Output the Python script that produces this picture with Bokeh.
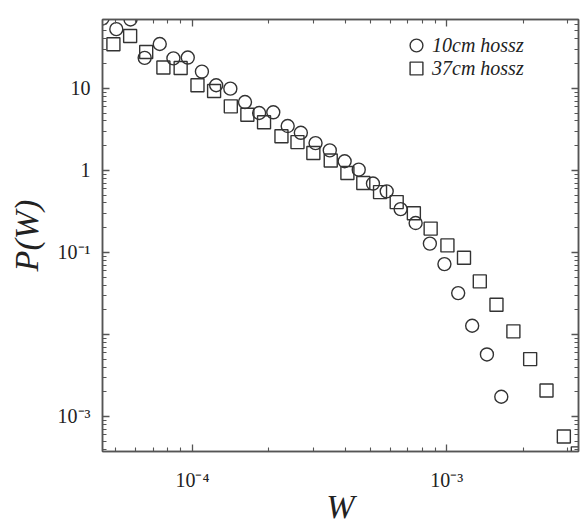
from bokeh.plotting import figure
from bokeh.models import (LogAxis, CustomJSTickFormatter, Legend,
                          LegendItem, Range1d, FixedTicker)
from bokeh.embed import file_html
from bokeh.resources import INLINE

# ---- data ----
w_10cm = [4.43e-5, 5.02e-5, 5.71e-5, 6.49e-5, 7.44e-5, 8.42e-5, 9.59e-5, 1.09e-4,
          1.24e-4, 1.41e-4, 1.61e-4, 1.83e-4, 2.08e-4, 2.37e-4, 2.67e-4, 3.05e-4,
          3.47e-4, 3.97e-4, 4.51e-4, 5.13e-4, 5.81e-4, 6.59e-4, 7.55e-4, 8.59e-4,
          9.8e-4, 1.11e-3, 1.26e-3, 1.44e-3, 1.64e-3]
p_10cm = [71, 52.6, 69, 23.5, 34.7, 23.2, 23.7, 16.0, 10.9, 9.9, 6.8, 5.0, 5.1,
          3.47, 2.87, 2.15, 1.75, 1.29, 1.02, 0.69, 0.555, 0.337, 0.228, 0.128,
          0.072, 0.0319, 0.01276, 0.0057, 0.00174]

w_37cm = [4.89e-5, 5.69e-5, 6.58e-5, 7.69e-5, 8.99e-5, 1.047e-4, 1.217e-4, 1.416e-4,
          1.645e-4, 1.913e-4, 2.24e-4, 2.59e-4, 2.99e-4, 3.50e-4, 4.07e-4, 4.70e-4,
          5.47e-4, 6.36e-4, 7.43e-4, 8.65e-4, 1.007e-3, 1.17e-3, 1.35e-3, 1.57e-3,
          1.83e-3, 2.13e-3, 2.47e-3, 2.89e-3, 3.28e-3]
p_37cm = [34.4, 43.5, 27.7, 17.9, 17.7, 10.9, 9.27, 6.03, 4.77, 3.85, 2.6, 2.21,
          1.63, 1.32, 0.927, 0.70, 0.543, 0.41, 0.30, 0.195, 0.1216, 0.086, 0.0443,
          0.023, 0.0109, 0.005, 0.00207, 0.00057, 0.000355]

series_labels = ["10cm hossz", "37cm hossz"]

x_major_ticks = [1e-4, 1e-3]
x_minor_ticks = [5e-5, 6e-5, 7e-5, 8e-5, 9e-5,
                 2e-4, 3e-4, 4e-4, 5e-4, 6e-4, 7e-4, 8e-4, 9e-4,
                 2e-3, 3e-3]
x_tick_labels = ["10\u207b\u2074", "10\u207b\u00b3"]

y_major_ticks = [1e-3, 1e-2, 1e-1, 1, 10]
y_minor_ticks = [4e-4, 5e-4, 6e-4, 7e-4, 8e-4, 9e-4,
                 2e-3, 3e-3, 4e-3, 5e-3, 6e-3, 7e-3, 8e-3, 9e-3,
                 2e-2, 3e-2, 4e-2, 5e-2, 6e-2, 7e-2, 8e-2, 9e-2,
                 0.2, 0.3, 0.4, 0.5, 0.6, 0.7, 0.8, 0.9,
                 2, 3, 4, 5, 6, 7, 8, 9,
                 20, 30, 40, 50, 60]
y_tick_labels = ["10\u207b\u00b3", "", "10\u207b\u00b9", "1", "10"]

x_label = "W"
y_label = "P(W)"

# ---- styling ----
INK = "#333333"
AXIS = "#555555"
SERIF = "Liberation Serif"

p = figure(width=585, height=528, x_axis_type="log", y_axis_type="log",
           x_range=Range1d(4.43e-5, 3.3e-3), y_range=Range1d(3.74e-4, 69),
           output_backend="svg", toolbar_location=None,
           min_border_left=102, min_border_right=7, min_border_top=19,
           min_border_bottom=77, background_fill_color="white",
           border_fill_color="white")
p.grid.visible = False
p.outline_line_color = AXIS
p.outline_line_width = 1.5

js = """
let best = 0;
for (let i = 1; i < ticks_in.length; i++) {
  if (Math.abs(Math.log10(ticks_in[i]) - Math.log10(tick)) <
      Math.abs(Math.log10(ticks_in[best]) - Math.log10(tick))) { best = i; }
}
return labels[best];
"""

xt = FixedTicker(ticks=x_major_ticks, minor_ticks=x_minor_ticks)
yt = FixedTicker(ticks=y_major_ticks, minor_ticks=y_minor_ticks)
p.xaxis.ticker = xt
p.yaxis.ticker = yt
p.xaxis.formatter = CustomJSTickFormatter(args=dict(ticks_in=x_major_ticks, labels=x_tick_labels), code=js)
p.yaxis.formatter = CustomJSTickFormatter(args=dict(ticks_in=y_major_ticks, labels=y_tick_labels), code=js)


def style_axis(ax):
    ax.axis_line_color = AXIS
    ax.axis_line_width = 1.5
    ax.major_tick_line_color = AXIS
    ax.minor_tick_line_color = AXIS
    ax.major_tick_line_width = 1.3
    ax.minor_tick_line_width = 1.1
    ax.major_tick_in = 7
    ax.major_tick_out = 0
    ax.minor_tick_in = 4
    ax.minor_tick_out = 0


for ax in (p.xaxis[0], p.yaxis[0]):
    style_axis(ax)
    ax.major_label_text_font = SERIF
    ax.major_label_text_font_size = "20px"
    ax.major_label_text_color = "#222222"
    ax.axis_label_text_font = SERIF
    ax.axis_label_text_font_style = "italic"
    ax.axis_label_text_color = "#222222"

p.xaxis.axis_label = x_label
p.xaxis.axis_label_text_font_size = "34px"
p.xaxis.major_label_standoff = 17
p.xaxis.axis_label_standoff = -6
p.yaxis.axis_label = y_label
p.yaxis.axis_label_text_font_size = "34px"
p.yaxis.major_label_standoff = 12
p.yaxis.axis_label_standoff = 10

# mirrored axes (ticks only)
empty_js = "return '';"
rax = LogAxis(ticker=FixedTicker(ticks=y_major_ticks, minor_ticks=y_minor_ticks),
              formatter=CustomJSTickFormatter(code=empty_js))
tax = LogAxis(ticker=FixedTicker(ticks=x_major_ticks, minor_ticks=x_minor_ticks),
              formatter=CustomJSTickFormatter(code=empty_js))
for ax in (rax, tax):
    style_axis(ax)
    ax.major_label_text_font_size = "1px"
    ax.major_label_standoff = 0
p.add_layout(rax, "right")
p.add_layout(tax, "above")

r1 = p.scatter(w_10cm, p_10cm, marker="circle", size=13, fill_color=None,
               line_color=INK, line_width=1.4)
r2 = p.scatter(w_37cm, p_37cm, marker="square", size=13, fill_color=None,
               line_color=INK, line_width=1.4)

legend_opts = dict(padding=0, spacing=0, margin=0,
                   label_height=23, glyph_height=32, glyph_width=32,
                   label_standoff=0, border_line_color=None,
                   background_fill_alpha=0,
                   label_text_font=SERIF, label_text_font_style="italic",
                   label_text_font_size="20px", label_text_color="#222222")
leg1 = Legend(items=[LegendItem(label=series_labels[0], renderers=[r1])],
              location=(298, 390), **legend_opts)
leg2 = Legend(items=[LegendItem(label=series_labels[1], renderers=[r2])],
              location=(298, 367), **legend_opts)
p.add_layout(leg1)
p.add_layout(leg2)

open("out.html", "w").write(file_html(p, INLINE))
